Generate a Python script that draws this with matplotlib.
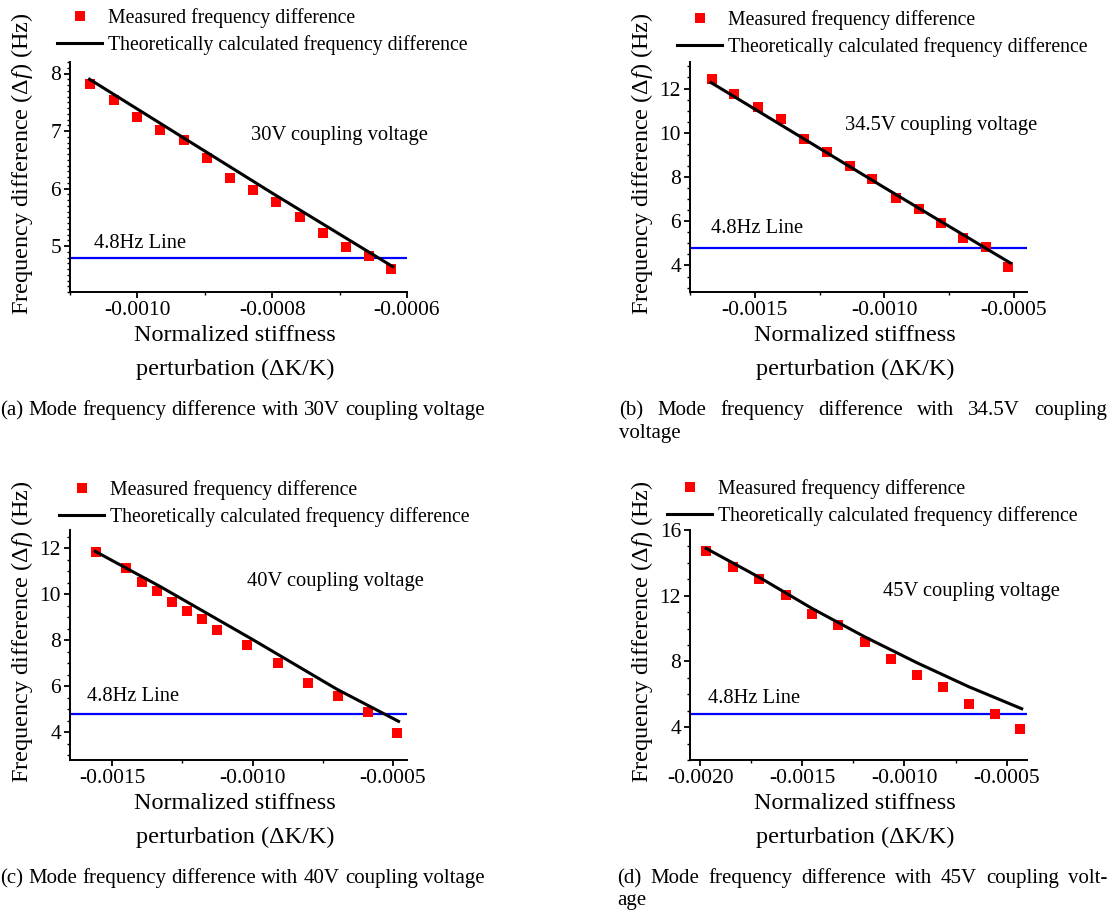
import numpy as np
import matplotlib
matplotlib.use("Agg")
import matplotlib.pyplot as plt
from matplotlib.ticker import MultipleLocator, FormatStrFormatter

plt.rcParams['font.family'] = ['Liberation Serif', 'DejaVu Serif']
plt.rcParams['mathtext.fontset'] = 'custom'
plt.rcParams['mathtext.rm'] = 'Liberation Serif'
plt.rcParams['mathtext.it'] = 'Liberation Serif:italic'
plt.rcParams['axes.unicode_minus'] = False

# measured frequency difference (Hz) vs normalized stiffness perturbation
a_x = [-0.001070, -0.001035, -0.001000, -0.000966, -0.000931, -0.000897, -0.000863,
       -0.000828, -0.000794, -0.000759, -0.000725, -0.000691, -0.000657, -0.000623]
a_y = [7.82, 7.54, 7.24, 7.01, 6.84, 6.53, 6.18, 5.98, 5.77, 5.50, 5.23, 4.99, 4.83, 4.60]
a_tx = [-0.001071, -0.000800, -0.000621]
a_ty = [7.90, 5.92, 4.64]

b_x = [-0.001666, -0.001579, -0.001488, -0.001399, -0.001311, -0.001223, -0.001134,
       -0.001046, -0.000957, -0.000868, -0.000783, -0.000695, -0.000609, -0.000522]
b_y = [12.42, 11.74, 11.17, 10.63, 9.71, 9.11, 8.51, 7.89, 7.07, 6.54, 5.92, 5.25, 4.83, 3.92]
b_tx = [-0.001669, -0.001000, -0.000514]
b_ty = [12.27, 7.52, 4.11]

c_x = [-0.001557, -0.001450, -0.001393, -0.001339, -0.001286, -0.001232, -0.001179,
       -0.001125, -0.001018, -0.000911, -0.000804, -0.000696, -0.000589, -0.000485]
c_y = [11.83, 11.15, 10.53, 10.14, 9.68, 9.30, 8.92, 8.46, 7.80, 7.03, 6.15, 5.57, 4.87, 3.97]
c_tx = [-0.001560, -0.001330, -0.001000, -0.000700, -0.000480]
c_ty = [11.87, 10.35, 8.04, 5.88, 4.48]

d_x = [-0.001971, -0.001841, -0.001711, -0.001581, -0.001453, -0.001325, -0.001195,
       -0.001067, -0.000939, -0.000811, -0.000685, -0.000557, -0.000433]
d_y = [14.74, 13.77, 13.02, 12.02, 10.88, 10.19, 9.18, 8.12, 7.19, 6.46, 5.40, 4.77, 3.86]
d_tx = [-0.001971, -0.001711, -0.001453, -0.001195, -0.000939, -0.000685, -0.000426]
d_ty = [14.88, 13.12, 11.23, 9.50, 7.92, 6.46, 5.12]

voltages = ['30V', '34.5V', '40V', '45V']
threshold = 4.8

captions = ['(a) Mode frequency difference with 30V coupling voltage',
            '(b) Mode frequency difference with 34.5V coupling voltage',
            '(c) Mode frequency difference with 40V coupling voltage',
            '(d) Mode frequency difference with 45V coupling voltage']

W, H = 1112, 914
fig = plt.figure(figsize=(W / 100, H / 100), dpi=100)


def box(l, t, r, b):
    return [l / W, 1 - b / H, (r - l) / W, (b - t) / H]


panels = [
    dict(x=a_x, y=a_y, tx=a_tx, ty=a_ty, rect=(70, 62, 407, 292),
         xlim=(-0.0011, -0.0006), ylim=(4.2, 8.2), xmaj=0.0002, ymaj=1, ymin=0.1,
         note=(-0.000831, 6.92), line_note=(-0.001064, 5.05), leg=(57, 8)),
    dict(x=b_x, y=b_y, tx=b_tx, ty=b_ty, rect=(690, 62, 1027, 292),
         xlim=(-0.00175, -0.00045), ylim=(2.8, 13.2), xmaj=0.0005, ymaj=2, ymin=0.5,
         note=(-0.001153, 10.32), line_note=(-0.001669, 5.65), leg=(677, 10)),
    dict(x=c_x, y=c_y, tx=c_tx, ty=c_ty, rect=(70, 530, 407, 760),
         xlim=(-0.00165, -0.00045), ylim=(2.8, 12.8), xmaj=0.0005, ymaj=2, ymin=0.5,
         note=(-0.001021, 10.57), line_note=(-0.00159, 5.55), leg=(59, 480)),
    dict(x=d_x, y=d_y, tx=d_tx, ty=d_ty, rect=(690, 530, 1027, 760),
         xlim=(-0.00205, -0.0004), ylim=(2, 16), xmaj=0.0005, ymaj=4, ymin=1,
         note=(-0.001106, 12.24), line_note=(-0.001962, 5.75), leg=(667, 479)),
]

for i, p in enumerate(panels):
    ax = fig.add_axes(box(*p['rect']))
    ax.axhline(threshold, color='#0000ff', lw=1.6, zorder=1)
    ax.plot(p['x'], p['y'], 's', color='#ff0000', ms=6.8, mew=0, zorder=3,
            label='Measured frequency difference')
    ax.plot(p['tx'], p['ty'], '-', color='black', lw=2.2, zorder=4,
            label='Theoretically calculated frequency difference')
    ax.set_xlim(*p['xlim'])
    ax.set_ylim(*p['ylim'])

    for s in ['top', 'right']:
        ax.spines[s].set_visible(False)
    for s in ['left', 'bottom']:
        ax.spines[s].set_linewidth(1.4)
    ax.xaxis.set_major_locator(MultipleLocator(p['xmaj']))
    ax.xaxis.set_minor_locator(MultipleLocator(p['xmaj'] / 2))
    ax.xaxis.set_major_formatter(FormatStrFormatter('%.4f'))
    ax.yaxis.set_major_locator(MultipleLocator(p['ymaj']))
    ax.yaxis.set_minor_locator(MultipleLocator(p['ymin']))
    ax.tick_params(which='major', direction='out', length=4.5, width=1.3,
                   labelsize=15.5, pad=2)
    ax.tick_params(which='minor', direction='out', length=2.5, width=1.0)

    ax.set_ylabel('Frequency difference (Δ$f$) (Hz)', fontsize=17.5)
    ax.set_xlabel('Normalized stiffness\nperturbation (ΔK/K)', fontsize=17.5,
                  linespacing=1.8)
    ax.yaxis.set_label_coords(-0.105, 0.56)
    ax.xaxis.set_label_coords(0.49, -0.142)
    ax.xaxis.label.set_va('top')

    ax.text(p['note'][0], p['note'][1], voltages[i] + ' coupling voltage',
            fontsize=14.8, ha='left', va='center')
    ax.text(p['line_note'][0], p['line_note'][1], '4.8Hz Line',
            fontsize=14.8, ha='left', va='center')

    lx, ly = p['leg']
    ax.legend(loc='upper left', bbox_to_anchor=(lx / W, 1 - ly / H),
              bbox_transform=fig.transFigure, frameon=False, fontsize=14.2,
              borderpad=0, borderaxespad=0, handlelength=2.3,
              handletextpad=0.3, labelspacing=0.37)


# captions; the right column is set justified like the page layout
def caption_line(text, x0, x1, y, justify):
    words = text.split()
    objs = [fig.text(0, 1 - y / H, w, fontsize=15, va='baseline', ha='left')
            for w in words]
    r = fig.canvas.get_renderer()
    widths = [o.get_window_extent(r).width for o in objs]
    if justify and len(words) > 1:
        gap = (x1 - x0 - sum(widths)) / (len(words) - 1)
    else:
        gap = 15 * 100 / 72 * 0.25
    x = x0
    for o, wd in zip(objs, widths):
        o.set_x(x / W)
        x += wd + gap


caption_line(captions[0], 0, 487, 415, False)
caption_line(captions[2], 0, 487, 883, False)
caption_line('(b) Mode frequency difference with 34.5V coupling', 619, 1107, 415, True)
caption_line('voltage', 619, 1107, 438, False)
caption_line('(d) Mode frequency difference with 45V coupling volt-', 617, 1107, 883, True)
caption_line('age', 617, 1107, 905, False)

fig.savefig('out.png', dpi=100)
